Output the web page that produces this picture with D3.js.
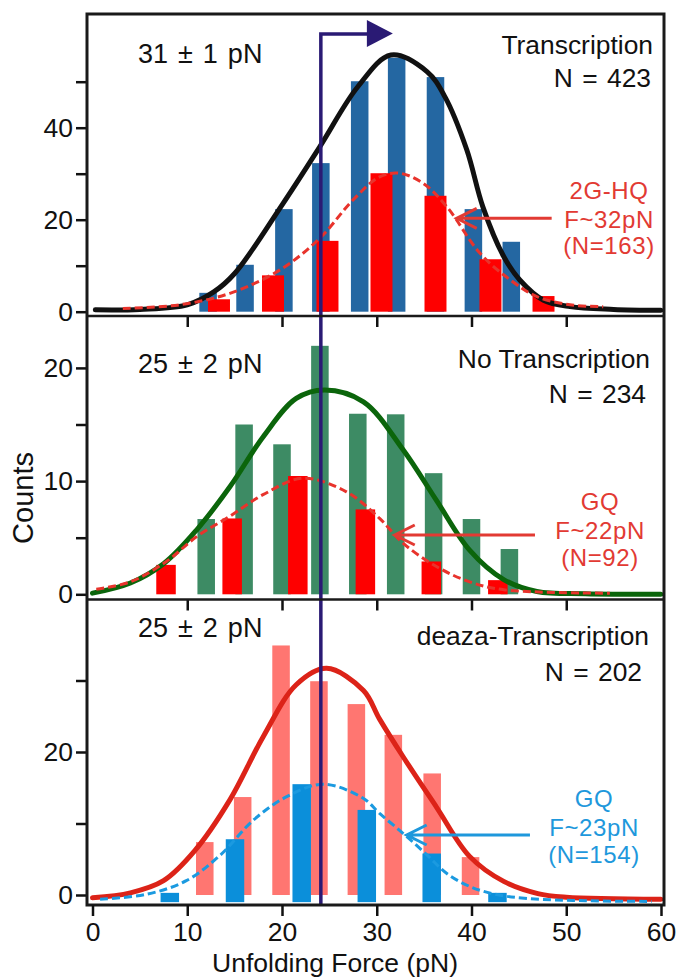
<!DOCTYPE html>
<html>
<head>
<meta charset="utf-8">
<script src="https://cdn.jsdelivr.net/npm/d3@7"></script>
<style>
  html, body { margin: 0; padding: 0; background: #fff; }
  svg { display: block; font-family: "Liberation Sans", Arial, sans-serif; }
</style>
</head>
<body>
<svg id="chart"></svg>
<script>
const svgWidth = 676, svgHeight = 979;

// x axis
const forceTicks = [0, 10, 20, 30, 40, 50, 60];
const innerForceTicks = [10, 20, 30, 40, 50];

// --- panel 1: Transcription ---
const transBins = [12.2, 16.1, 20.2, 24.1, 28.2, 32.1, 36.2, 40.2, 44.2];
const transCounts = [4.1, 10.2, 22.3, 32.3, 50.1, 55.2, 51, 22.3, 15.2];
const hqBins = [13.35, 19.05, 24.8, 30.5, 36.2, 42.0, 47.6];
const hqCounts = [2.7, 7.9, 15.4, 30.1, 25.2, 11.4, 3.4];
const transFit = [[0.3, 0.4], [5, 0.5], [10, 1.5], [12.8, 4.3], [15, 8.3], [20.1, 23.5], [24, 35.9],
  [28, 48.9], [31.5, 55.8], [35.3, 52.2], [37.2, 46.7], [39.5, 35.2], [41.2, 22.8], [43.4, 12],
  [45.1, 6.9], [47.6, 2.5], [50.4, 1.1], [55, 0.5], [60, 0.3]];
const hqFit = [[3.2, 0.7], [9.2, 1.5], [14.5, 4], [19.8, 9.1], [24, 16], [27.5, 24.3], [30.3, 29.3],
  [32.4, 30.1], [34.9, 27.9], [37.4, 22.8], [40.9, 12.7], [44.1, 6.9], [46.9, 3.3], [50.4, 1.5], [53.9, 1.1]];

// --- panel 2: No Transcription ---
const noTransBins = [12, 16, 20, 24, 28, 32, 36, 40, 44];
const noTransCounts = [6.65, 15, 13.25, 21.95, 15.95, 15.9, 10.7, 6.65, 4];
const gqBins = [7.76, 14.74, 21.67, 28.8, 35.76, 42.78];
const gqCounts = [2.6, 6.7, 10.45, 7.5, 2.9, 1.25];
const noTransFit = [[0, 0.1], [4, 1], [7.5, 2.7], [11, 5.7], [14.5, 9.5], [18, 13.9], [21.5, 17.3],
  [24.5, 18.05], [28.6, 17], [32.8, 12.75], [36.3, 8.3], [39.8, 3.9], [43.4, 1.3], [46.9, 0.25],
  [52, 0.05], [60, 0]];
const gqFit = [[0.4, 0.45], [4, 1.1], [7.8, 2.9], [11, 5.1], [14.5, 6.9], [18, 8.8], [22.2, 10.25],
  [26.8, 9.05], [30.3, 6.7], [32.8, 4.5], [36.3, 2.45], [39.8, 1.1], [43.4, 0.4], [54.6, 0.1]];

// --- panel 3: deaza-Transcription ---
const deazaBins = [11.85, 15.85, 19.9, 23.9, 27.85, 31.75, 35.85, 39.9];
const deazaCounts = [7.4, 13.7, 34.9, 29.9, 26.7, 22.4, 17, 5.3];
const gq2Bins = [8.16, 15.04, 22.08, 28.95, 35.8, 42.74];
const gq2Counts = [0.3, 7.8, 15.5, 11.9, 5.8, 0.3];
const deazaFit = [[0, -0.4], [4, 0.3], [7.5, 2], [10.8, 6.2], [14.5, 13.3], [18, 22.1], [21.5, 29.4],
  [24.7, 31.7], [28.6, 28.6], [30.3, 24.6], [32.8, 19.3], [36.3, 12.3], [39.8, 5.4], [43.4, 1.9],
  [47, 0.2], [50, -0.3], [60, -0.6]];
const gq2Fit = [[0.8, -0.6], [5.7, 0.1], [9.9, 2], [13.5, 5.6], [17, 10.5], [20.5, 13.75], [24.4, 15.5],
  [28.6, 13.5], [30.3, 11.4], [32.8, 8.6], [35.3, 5.6], [37.4, 3], [39.8, 1.2], [42.5, 0.1],
  [46, -0.5], [52, -0.8], [59, -0.9]];

const markerForce = 24.1;

// frame
const frame = {left: 87, right: 664, top: 14, bottom: 905};
const dividers = [316, 599.5];
const font = "'Liberation Sans', Arial, sans-serif";

const chart = d3.select('#chart')
  .attr("width", svgWidth)
  .attr("height", svgHeight);

const xScale = d3.scaleLinear().domain([0, 60]).range([92.5, 661]);

const panels = [
  {
    top: frame.top, bottom: dividers[0],
    y: d3.scaleLinear().domain([0, 50]).range([311.7, 81.7]),
    yTicks: [0, 10, 20, 30, 40, 50], yLabelEvery: 20,
    back: {bins: transBins, counts: transCounts, width: 1.85, color: "#2467a2"},
    front: {bins: hqBins, counts: hqCounts, width: 2.32, color: "#fe0000"},
    fit: {pts: transFit, color: "#111111", width: 5},
    dash: {pts: hqFit, color: "#e8332c", width: 3},
    peak: {text: "31 \u00b1 1 pN", x: 138, y: 63},
    title: ["Transcription", "N = 423"], titleX: [653, 651], titleY: [54, 87],
    note: ["2G-HQ", "F~32pN", "(N=163)"], noteX: 609, noteY: [199, 228, 254], noteColor: "#e23a33",
    arrow: {from: 48.46, to: 38.44, at: 20.3}
  },
  {
    top: dividers[0], bottom: dividers[1],
    y: d3.scaleLinear().domain([0, 20]).range([594.3, 367.9]),
    yTicks: [0, 5, 10, 15, 20], yLabelEvery: 10,
    back: {bins: noTransBins, counts: noTransCounts, width: 1.85, color: "#3d8b64"},
    front: {bins: gqBins, counts: gqCounts, width: 2.06, color: "#fe0000"},
    fit: {pts: noTransFit, color: "#0b650b", width: 5},
    dash: {pts: gqFit, color: "#e8332c", width: 3},
    peak: {text: "25 \u00b1 2 pN", x: 138, y: 373},
    title: ["No Transcription", "N = 234"], titleX: [650, 646], titleY: [368, 403],
    note: ["GQ", "F~22pN", "(N=92)"], noteX: 600, noteY: [510, 539, 566], noteColor: "#e23a33",
    arrow: {from: 46.7, to: 31.9, at: 5.24}
  },
  {
    top: dividers[1], bottom: frame.bottom,
    y: d3.scaleLinear().domain([0, 30]).range([895, 680.5]),
    yTicks: [0, 10, 20, 30], yLabelEvery: 20,
    back: {bins: deazaBins, counts: deazaCounts, width: 1.85, color: "#ff7671"},
    front: {bins: gq2Bins, counts: gq2Counts, width: 1.95, color: "#0b8fda", base: -1},
    fit: {pts: deazaFit, color: "#dc2318", width: 5},
    dash: {pts: gq2Fit, color: "#1b9ae0", width: 3},
    peak: {text: "25 \u00b1 2 pN", x: 138, y: 637},
    title: ["deaza-Transcription", "N = 202"], titleX: [649, 642], titleY: [645, 681],
    note: ["GQ", "F~23pN", "(N=154)"], noteX: 594, noteY: [807, 836, 863], noteColor: "#1e98dc",
    arrow: {from: 46.17, to: 33.16, at: 8.39}
  }
];

const defs = chart.append("defs");

panels.forEach(function(p, i) {
  defs.append("clipPath").attr("id", "clip" + i)
    .append("rect")
    .attr("x", frame.left).attr("y", p.top)
    .attr("width", frame.right - frame.left).attr("height", p.bottom - p.top);

  const g = chart.append("g").attr("clip-path", "url(#clip" + i + ")");
  const y = p.y;

  // bars
  [p.back, p.front].forEach(function(s) {
    const base = s.base || 0;
    g.append("g").selectAll("rect")
      .data(s.bins.map((b, j) => ({f: b, c: s.counts[j]})))
      .enter().append("rect")
      .attr("x", d => xScale(d.f - s.width / 2))
      .attr("width", xScale(s.width) - xScale(0))
      .attr("y", d => y(d.c))
      .attr("height", d => y(base) - y(d.c))
      .attr("fill", s.color);
  });

  const line = d3.line()
    .x(d => xScale(d[0]))
    .y(d => y(d[1]))
    .curve(d3.curveCatmullRom.alpha(0.5));

  g.append("path").datum(p.fit.pts)
    .attr("d", line)
    .attr("fill", "none")
    .attr("stroke", p.fit.color)
    .attr("stroke-width", p.fit.width)
    .attr("stroke-linecap", "round");

  g.append("path").datum(p.dash.pts)
    .attr("d", line)
    .attr("fill", "none")
    .attr("stroke", p.dash.color)
    .attr("stroke-width", p.dash.width)
    .attr("stroke-dasharray", "8,4");

  // y axis
  const yAxis = d3.axisLeft(y)
    .tickValues(p.yTicks)
    .tickSize(11)
    .tickPadding(3)
    .tickFormat(d => d % p.yLabelEvery === 0 ? d : "");
  const ya = chart.append("g")
    .attr("transform", "translate(" + frame.left + ",0)")
    .call(yAxis);
  ya.select(".domain").remove();
  ya.selectAll("line").attr("stroke", "#111").attr("stroke-width", 2.5);
  ya.selectAll("text").attr("font-size", 26.5).attr("font-family", font).attr("fill", "#111");

  // inner ticks on top edge of lower panels
  if (i > 0) {
    const ta = chart.append("g")
      .attr("transform", "translate(0," + p.top + ")")
      .call(d3.axisBottom(xScale).tickValues(innerForceTicks).tickSize(11).tickFormat(""));
    ta.select(".domain").remove();
    ta.selectAll("line").attr("stroke", "#111").attr("stroke-width", 2.5);
  }

  // annotations
  chart.append("text")
    .attr("x", p.peak.x).attr("y", p.peak.y)
    .attr("font-size", 27).attr("font-family", font).attr("fill", "#111")
    .attr("word-spacing", 2.5)
    .text(p.peak.text);

  p.title.forEach(function(t, j) {
    chart.append("text")
      .attr("x", p.titleX[j]).attr("y", p.titleY[j])
      .attr("text-anchor", "end")
      .attr("font-size", 26.4).attr("font-family", font).attr("fill", "#111")
      .attr("word-spacing", j === 1 ? 2 : 0)
      .text(t);
  });

  p.note.forEach(function(t, j) {
    chart.append("text")
      .attr("x", p.noteX).attr("y", p.noteY[j])
      .attr("text-anchor", "middle")
      .attr("font-size", 24).attr("font-family", font).attr("fill", p.noteColor)
      .attr("letter-spacing", 0.6)
      .text(t);
  });

  const ay = y(p.arrow.at), ax0 = xScale(p.arrow.from), ax1 = xScale(p.arrow.to);
  chart.append("path")
    .attr("d", "M" + ax0 + "," + ay + "H" + ax1 +
      "M" + (ax1 + 20) + "," + (ay - 10) + "L" + ax1 + "," + ay + "L" + (ax1 + 20) + "," + (ay + 10))
    .attr("fill", "none")
    .attr("stroke", p.noteColor)
    .attr("stroke-width", 3);
});

// marker line with arrow
const mx = xScale(markerForce);
chart.append("path")
  .attr("d", "M" + mx + "," + frame.bottom + "V34H" + (mx + 50))
  .attr("fill", "none")
  .attr("stroke", "#2a1a74")
  .attr("stroke-width", 3.5);
chart.append("path")
  .attr("d", "M" + (mx + 46) + ",20L" + (mx + 72) + ",33.5L" + (mx + 46) + ",47Z")
  .attr("fill", "#2a1a74");

// frame and dividers
chart.append("rect")
  .attr("x", frame.left).attr("y", frame.top)
  .attr("width", frame.right - frame.left).attr("height", frame.bottom - frame.top)
  .attr("fill", "none").attr("stroke", "#1a1a1a").attr("stroke-width", 3);
dividers.forEach(function(d) {
  chart.append("line")
    .attr("x1", frame.left).attr("x2", frame.right)
    .attr("y1", d).attr("y2", d)
    .attr("stroke", "#1a1a1a").attr("stroke-width", 2.5);
});

// bottom x axis
const xa = chart.append("g")
  .attr("transform", "translate(0," + frame.bottom + ")")
  .call(d3.axisBottom(xScale).tickValues(forceTicks).tickSize(11).tickPadding(6.5));
xa.select(".domain").remove();
xa.selectAll("line").attr("stroke", "#111").attr("stroke-width", 2.5);
xa.selectAll("text").attr("font-size", 26.5).attr("font-family", font).attr("fill", "#111");

chart.append("text")
  .attr("x", 335).attr("y", 972)
  .attr("text-anchor", "middle")
  .attr("font-size", 26.5).attr("font-family", font).attr("fill", "#111")
  .text("Unfolding Force (pN)");

chart.append("text")
  .attr("transform", "translate(33,498) rotate(-90)")
  .attr("text-anchor", "middle")
  .attr("font-size", 29).attr("font-family", font).attr("fill", "#111")
  .text("Counts");
</script>
</body>
</html>
